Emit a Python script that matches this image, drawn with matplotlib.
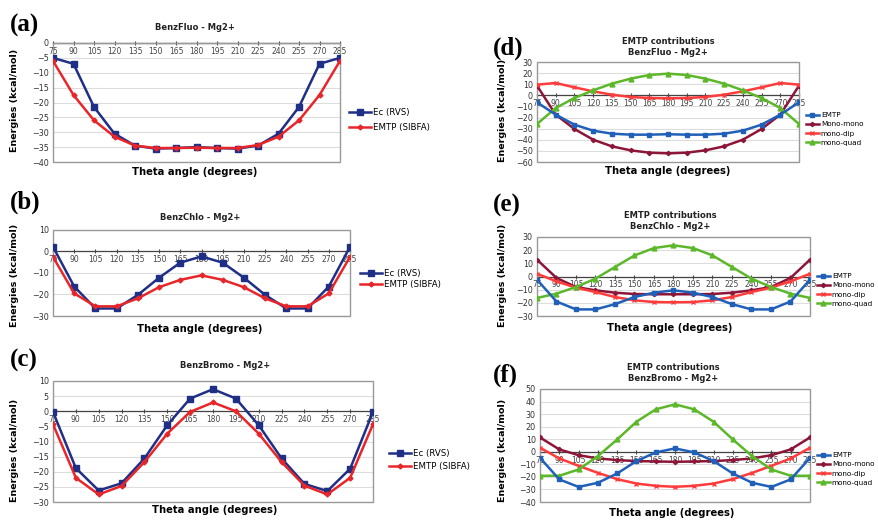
import matplotlib
matplotlib.use("Agg")
import matplotlib.pyplot as plt
from matplotlib.patches import Rectangle

theta = [75, 90, 105, 120, 135, 150, 165, 180, 195, 210, 225, 240, 255, 270, 285]

# (a) BenzFluo
fluo_ec = [-5, -7, -21.5, -30.5, -34.5, -35.5, -35.3, -35, -35.3, -35.5, -34.5, -30.5, -21.5, -7, -5]
fluo_emtp = [-6, -17.5, -26, -31.5, -34.5, -35.3, -35.3, -35.2, -35.3, -35.3, -34.3, -31.5, -26, -17.5, -6]
# (b) BenzChlo
chlo_ec = [2.2, -16.3, -26.5, -26.5, -20.2, -12.2, -5.2, -2.3, -5.2, -12.2, -20.2, -26.5, -26.5, -16.3, 2.2]
chlo_emtp = [-2.5, -19.5, -25.5, -25.5, -21.8, -16.6, -13.2, -11.1, -13.2, -16.6, -21.8, -25.5, -25.5, -19.5, -2.5]
# (c) BenzBromo
bromo_ec = [-0.2, -18.8, -26.2, -23.8, -15.6, -4.6, 4.2, 7.3, 4.2, -4.6, -15.6, -24, -26.4, -19, -0.2]
bromo_emtp = [-4.3, -22, -27.5, -24.7, -16.8, -7.4, -0.2, 2.9, 0, -7.4, -16.8, -24.6, -27.5, -22, -4.3]

# (d) EMTP contributions BenzFluo
d_emtp = [-6.3, -17.4, -26.4, -31.8, -34.5, -35.4, -35.4, -35, -35.4, -35.4, -34.5, -31.8, -26.4, -17.4, -6.3]
d_mono = [8.7, -17.4, -30.3, -39.9, -45.9, -49.5, -51.6, -52.2, -51.6, -49.5, -45.9, -39.9, -30.3, -17.4, 8.7]
d_dip = [9.6, 11.1, 7.2, 3.6, 0.6, -1.5, -2.4, -2.7, -2.4, -1.5, 0.6, 3.6, 7.2, 11.1, 9.6]
d_quad = [-25.8, -11.4, -2.4, 4.5, 10.5, 15, 18.3, 19.5, 18.3, 15, 10.5, 4.5, -2.4, -11.4, -25.8]
# (e) EMTP contributions BenzChlo
e_emtp = [-2.4, -19, -25, -25, -21, -15.6, -12.3, -10.5, -12.3, -15.6, -21, -25, -25, -19, -2.4]
e_mono = [12.8, -1.1, -8, -10.5, -12.3, -13.3, -13.5, -13.5, -13.5, -13.3, -12.3, -10.5, -8, -1.1, 12.8]
e_dip = [2.1, -3.7, -8.5, -11.8, -15.6, -18.1, -19.4, -19.6, -19.4, -18.1, -15.6, -11.8, -8.5, -3.7, 2.1]
e_quad = [-16.3, -13, -8, -1.6, 7.2, 16, 21.6, 23.7, 21.6, 16, 7.2, -1.6, -8, -13, -16.3]
# (f) EMTP contributions BenzBromo
f_emtp = [-4.8, -22, -28, -24.7, -17.3, -7.4, -0.5, 2.7, -0.5, -7.4, -17.3, -24.7, -28, -22, -4.8]
f_mono = [11.4, 1.9, -2.7, -5.3, -6.6, -7.4, -7.7, -8, -7.7, -7.4, -6.6, -5.3, -2.7, 1.9, 11.4]
f_dip = [3.2, -5.3, -11.2, -16.8, -21.8, -25.3, -27.1, -27.9, -27.1, -25.3, -21.8, -16.8, -11.2, -5.3, 3.2]
f_quad = [-19.1, -19.1, -14.1, -3.5, 9.8, 23.9, 33.8, 37.8, 33.8, 23.9, 9.8, -3.5, -14.1, -19.1, -19.1]

W, H = 879, 521
fig = plt.figure(figsize=(W / 100, H / 100), dpi=100)
fig.patch.set_facecolor("white")


def fx(x):
    return x / W


def fy(y):
    return 1 - y / H


def make_ax(x0, y0, x1, y1, ylim, ystep):
    ax = fig.add_axes([fx(x0), fy(y1), (x1 - x0) / W, (y1 - y0) / H])
    ax.set_xlim(75, 285)
    ax.set_ylim(ylim)
    ax.set_yticks(range(ylim[0], ylim[1] + 1, ystep))
    ax.set_xticks(theta)
    ax.set_xticklabels([str(t) for t in theta])
    ax.yaxis.grid(True, color="#dddddd", lw=0.8)
    ax.set_axisbelow(True)
    for s in ["top", "right", "left"]:
        ax.spines[s].set_visible(False)
    ax.spines["bottom"].set_position(("data", 0))
    ax.spines["bottom"].set_color("#444444")
    ax.spines["bottom"].set_linewidth(0.9)
    ax.add_patch(Rectangle((0, 0), 1, 1, transform=ax.transAxes, fill=False,
                           edgecolor="#999999", lw=1.0, clip_on=False, zorder=3))
    ax.tick_params(axis="x", labelsize=5.5, colors="#444444", length=2.5, direction="inout", pad=1.5)
    ax.tick_params(axis="y", labelsize=5.8, colors="#333333", length=0, pad=3)
    return ax


def decorate(letter, lx, ly, title, tx, ty, xlx, xly, ylx, yly):
    fig.text(fx(lx), fy(ly), letter, fontsize=18, fontweight="bold", family="Liberation Serif",
             ha="left", va="center")
    fig.text(fx(tx), fy(ty), title, fontsize=6, fontweight="bold", ha="center", va="center",
             color="#222222", linespacing=1.15)
    fig.text(fx(xlx), fy(xly), "Theta angle (degrees)", fontsize=7.2, fontweight="bold",
             ha="center", va="center")
    fig.text(fx(ylx), fy(yly), "Energies (kcal/mol)", fontsize=6.8, fontweight="bold",
             ha="center", va="center", rotation=90)


def pair(ax, ec, emtp, lx, ly, spacing):
    ax.plot(theta, ec, color="#1f2f86", lw=1.8, marker="s", ms=4, label="Ec (RVS)", zorder=4)
    ax.plot(theta, emtp, color="#e8262a", lw=1.8, marker="D", ms=2.5, label="EMTP (SIBFA)", zorder=5)
    ax.legend(loc="center left", bbox_to_anchor=(fx(lx), fy(ly)), bbox_transform=fig.transFigure,
              frameon=False, fontsize=6.2, handlelength=2.5, handletextpad=0.3,
              labelspacing=spacing, borderpad=0)


def contrib(ax, emtp, mono, dip, quad, lx, ly):
    ax.plot(theta, emtp, color="#2060b8", lw=1.8, marker="s", ms=3.5, label="EMTP", zorder=5)
    ax.plot(theta, mono, color="#8c1538", lw=1.8, marker="D", ms=2.2, label="Mono-mono", zorder=4)
    ax.plot(theta, dip, color="#ff3b3b", lw=1.8, marker="x", ms=3.5, mew=1, label="mono-dip", zorder=4)
    ax.plot(theta, quad, color="#5cb82a", lw=1.8, marker="^", ms=3.5, label="mono-quad", zorder=4)
    ax.legend(loc="center left", bbox_to_anchor=(fx(lx), fy(ly)), bbox_transform=fig.transFigure,
              frameon=False, fontsize=5.2, handlelength=1.8, handletextpad=0.3,
              labelspacing=0.45, borderpad=0)


ax = make_ax(53, 43, 340, 162, (-40, 0), 5)
pair(ax, fluo_ec, fluo_emtp, 345, 120, 0.7)
decorate("(a)", 10, 25, "BenzFluo - Mg2+", 195, 28, 195, 172, 15, 100)

ax = make_ax(53, 230, 350, 316, (-30, 10), 10)
pair(ax, chlo_ec, chlo_emtp, 356, 279, 0.25)
decorate("(b)", 10, 202, "BenzChlo - Mg2+", 200, 217, 200, 329, 15, 275)

ax = make_ax(53, 381, 373, 502, (-30, 10), 5)
pair(ax, bromo_ec, bromo_emtp, 385, 460, 0.5)
decorate("(c)", 10, 360, "BenzBromo - Mg2+", 225, 365, 215, 510, 15, 450)

ax = make_ax(537, 62, 799, 162, (-60, 30), 10)
contrib(ax, d_emtp, d_mono, d_dip, d_quad, 802, 129)
decorate("(d)", 493, 48, "EMTP contributions\nBenzFluo - Mg2+", 668, 47, 668, 171, 503, 110)

ax = make_ax(537, 237, 810, 316, (-30, 30), 10)
contrib(ax, e_emtp, e_mono, e_dip, e_quad, 813, 290)
decorate("(e)", 493, 205, "EMTP contributions\nBenzChlo - Mg2+", 670, 221, 670, 328, 503, 275)

ax = make_ax(540, 389, 810, 502, (-40, 50), 10)
contrib(ax, f_emtp, f_mono, f_dip, f_quad, 813, 469)
decorate("(f)", 493, 375, "EMTP contributions\nBenzBromo - Mg2+", 673, 373, 672, 513, 503, 450)

fig.savefig("out.png", dpi=100)
